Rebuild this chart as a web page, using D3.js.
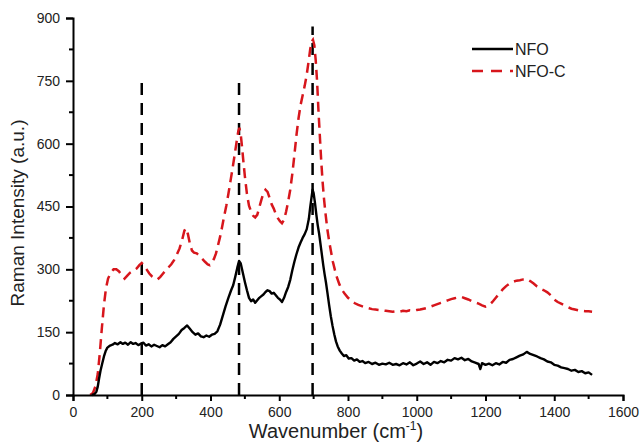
<!DOCTYPE html>
<html>
<head>
<meta charset="utf-8">
<script src="https://cdn.jsdelivr.net/npm/d3@7"></script>
<style>
  body { margin: 0; background: #fff; }
  svg { display: block; font-family: "Liberation Sans", Arial, sans-serif; }
</style>
</head>
<body>
<svg id="chart" width="641" height="445"></svg>
<script>
// ---- data ----
const nfoX = [55,62,68,72,76,80,85,90,95,100,108,115,122,130,138,145,152,160,168,175,182,190,198,205,212,220,228,236,244,252,260,268,276,284,292,300,308,316,324,332,340,348,356,364,372,380,388,396,404,412,420,428,436,444,452,460,466,472,478,483,488,494,500,506,512,518,524,530,536,542,548,554,560,566,572,578,584,590,596,602,608,614,620,626,632,638,644,650,656,662,668,674,680,686,690,694,697,700,704,708,712,716,720,724,728,732,736,740,745,750,755,760,765,770,776,782,788,795,802,810,818,826,834,842,850,860,870,880,890,900,910,920,930,940,950,960,970,980,990,1000,1010,1020,1030,1040,1050,1060,1070,1080,1090,1100,1110,1120,1130,1140,1150,1160,1170,1180,1185,1190,1200,1210,1220,1230,1240,1250,1260,1270,1280,1290,1300,1310,1320,1330,1340,1350,1360,1370,1380,1390,1400,1410,1420,1430,1440,1450,1460,1470,1480,1490,1500,1510];
const nfoY = [0,2,8,20,40,58,75,92,105,113,118,120,124,121,126,122,125,120,126,122,124,119,123,125,118,121,116,120,117,114,119,116,121,126,134,140,146,155,160,166,158,150,144,147,140,138,142,139,144,146,152,168,190,212,232,250,262,282,304,320,314,292,270,250,232,224,228,220,226,232,236,240,246,250,248,242,244,238,232,228,222,232,246,258,275,298,318,336,352,364,375,384,396,420,448,472,490,482,458,430,405,385,360,335,310,288,268,245,215,188,165,145,128,116,106,99,93,95,87,88,82,85,79,81,76,79,74,77,72,75,73,77,72,74,71,76,73,78,71,75,80,74,78,72,79,76,81,78,84,82,88,85,89,83,86,80,77,74,62,76,72,75,71,76,73,79,77,84,86,90,94,97,103,98,95,92,88,85,80,78,72,70,66,64,62,58,60,55,57,52,54,48];

const nfoCX = [50,58,65,72,78,84,90,96,102,110,118,126,134,142,150,158,166,175,185,193,200,206,214,222,230,238,246,254,262,270,278,286,294,302,310,318,324,328,334,340,346,352,360,368,376,384,392,398,404,410,416,422,428,434,440,446,452,458,464,470,476,481,484,488,492,496,500,506,512,518,524,530,536,542,548,554,560,566,572,578,584,590,596,602,608,614,620,626,632,638,644,650,656,662,668,674,680,686,690,694,698,702,706,710,714,718,722,726,730,735,740,745,750,756,762,768,775,782,790,800,810,820,830,840,850,860,870,880,890,900,910,920,930,940,950,960,970,980,990,1000,1010,1020,1030,1040,1050,1060,1070,1080,1090,1100,1110,1120,1130,1140,1150,1160,1170,1180,1190,1200,1210,1220,1230,1240,1250,1260,1270,1280,1290,1300,1310,1320,1330,1340,1350,1360,1370,1380,1390,1400,1410,1420,1430,1440,1450,1460,1470,1480,1490,1500,1510];
const nfoCY = [0,5,20,50,100,160,215,255,278,292,300,300,295,285,278,285,292,297,302,310,315,310,300,290,283,278,276,282,290,298,305,312,322,335,350,372,392,398,385,362,345,340,338,332,325,318,312,310,316,325,338,358,378,402,428,452,480,510,540,572,605,630,638,622,590,555,522,480,452,438,428,424,430,448,466,482,490,485,470,455,445,432,422,415,410,418,438,462,490,528,572,620,660,692,715,738,765,800,825,843,848,835,800,750,680,620,560,510,470,430,395,368,345,318,298,280,264,252,242,232,225,219,215,212,209,207,205,204,203,202,201,200,199,200,199,201,200,202,201,203,204,206,208,211,214,217,220,223,226,229,231,233,234,231,228,224,221,218,214,211,214,222,232,242,252,260,266,270,273,274,276,277,272,266,259,254,250,245,238,228,222,218,214,210,206,204,202,201,200,200,199];

// vertical dashed reference lines (wavenumber, top intensity)
const markerX = [200, 483, 697];
const markerTop = [750, 750, 880];

const xTicks = [0,200,400,600,800,1000,1200,1400,1600];
const yTicks = [0,150,300,450,600,750,900];

const seriesNames = ["NFO", "NFO-C"];
const seriesColors = ["#000000", "#d7161c"];

// ---- layout ----
const svg = d3.select("#chart");
const x = d3.scaleLinear().domain([0, 1600]).range([73, 623]);
const y = d3.scaleLinear().domain([0, 900]).range([395, 18]);

svg.append("rect").attr("width", 641).attr("height", 445).attr("fill", "#fff");

// marker lines
svg.append("g")
  .selectAll("line")
  .data(markerX)
  .join("line")
  .attr("x1", (d) => x(d))
  .attr("x2", (d) => x(d))
  .attr("y1", y(0))
  .attr("y2", (d, i) => y(markerTop[i]))
  .attr("stroke", "#000")
  .attr("stroke-width", 2.5)
  .attr("stroke-dasharray", "12,8");

const line = d3.line().x((d) => x(d[0])).y((d) => y(d[1]));

// NFO-C (red dashed)
svg.append("path")
  .datum(nfoCX.map((v, i) => [v, nfoCY[i]]))
  .attr("d", line)
  .attr("fill", "none")
  .attr("stroke", seriesColors[1])
  .attr("stroke-width", 2.5)
  .attr("stroke-dasharray", "10,6");

// NFO (black solid)
svg.append("path")
  .datum(nfoX.map((v, i) => [v, nfoY[i]]))
  .attr("d", line)
  .attr("fill", "none")
  .attr("stroke", seriesColors[0])
  .attr("stroke-width", 2.4)
  .attr("stroke-linejoin", "round");

// ---- axes ----
const fmt = d3.format("d");
const xAxis = svg.append("g").attr("transform", `translate(0,${y(0)})`);
xAxis.call(d3.axisBottom(x).tickValues(xTicks).tickFormat(fmt).tickSize(6).tickPadding(6))
  .call((g) => g.select(".domain").attr("stroke-width", 2))
  .call((g) => g.selectAll(".tick line").attr("stroke-width", 2))
  .call((g) => g.selectAll(".tick text").attr("font-size", 14).attr("fill", "#222")
    .attr("font-family", "Liberation Sans, Arial, sans-serif"));
// minor x ticks
xAxis.selectAll(".minor")
  .data(d3.range(100, 1600, 200))
  .join("line")
  .attr("x1", (d) => x(d)).attr("x2", (d) => x(d))
  .attr("y1", 0).attr("y2", 4)
  .attr("stroke", "#000").attr("stroke-width", 2);

const yAxis = svg.append("g").attr("transform", `translate(${x(0)},0)`);
yAxis.call(d3.axisLeft(y).tickValues(yTicks).tickFormat(fmt).tickSize(7).tickPadding(6))
  .call((g) => g.select(".domain").attr("stroke-width", 2))
  .call((g) => g.selectAll(".tick line").attr("stroke-width", 2))
  .call((g) => g.selectAll(".tick text").attr("font-size", 14).attr("fill", "#222")
    .attr("font-family", "Liberation Sans, Arial, sans-serif"));
yAxis.selectAll(".minor")
  .data(d3.range(75, 900, 150))
  .join("line")
  .attr("x1", 0).attr("x2", -4)
  .attr("y1", (d) => y(d)).attr("y2", (d) => y(d))
  .attr("stroke", "#000").attr("stroke-width", 2);

// axis titles
const xTitle = svg.append("text")
  .attr("x", 336).attr("y", 438)
  .attr("text-anchor", "middle")
  .attr("font-size", 20)
  .attr("fill", "#222");
xTitle.append("tspan").text("Wavenumber (cm");
xTitle.append("tspan").attr("font-size", 12).attr("dy", -8).text("-1");
xTitle.append("tspan").attr("dy", 8).text(")");

svg.append("text")
  .attr("transform", "translate(24,213) rotate(-90)")
  .attr("text-anchor", "middle")
  .attr("font-size", 19)
  .attr("fill", "#222")
  .text("Raman Intensity (a.u.)");

// ---- legend ----
const legend = svg.append("g").attr("transform", "translate(472,49)");
seriesNames.forEach((name, i) => {
  const row = legend.append("g").attr("transform", `translate(0,${i * 22})`);
  row.append("line")
    .attr("x1", 0).attr("x2", 41)
    .attr("stroke", seriesColors[i])
    .attr("stroke-width", 2.5)
    .attr("stroke-dasharray", i === 1 ? "11,8" : null);
  row.append("text")
    .attr("x", 43).attr("y", 6)
    .attr("font-size", 16)
    .attr("fill", "#222")
    .text(name);
});
</script>
</body>
</html>
